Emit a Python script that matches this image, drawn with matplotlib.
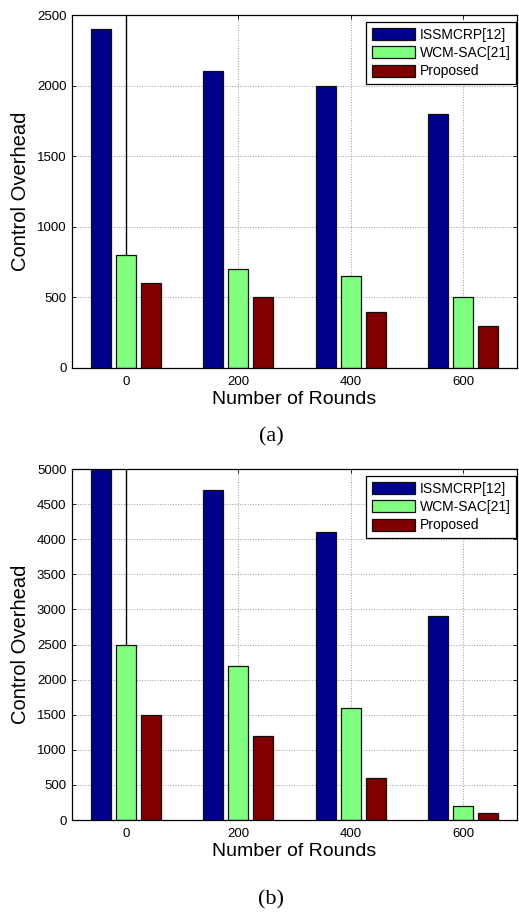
import matplotlib
matplotlib.use("Agg")
import matplotlib.pyplot as plt
import numpy as np

plt.rcParams["font.family"] = ["Liberation Sans", "DejaVu Sans"]

rounds = ["0", "200", "400", "600"]
series_names = ["ISSMCRP[12]", "WCM-SAC[21]", "Proposed"]
colors = ["#00008F", "#80FF80", "#800000"]

# panel (a)
issmcrp_a = [2400, 2100, 2000, 1800]
wcmsac_a = [800, 700, 650, 500]
proposed_a = [600, 500, 400, 300]
yticks_a = [0, 500, 1000, 1500, 2000, 2500]

# panel (b)
issmcrp_b = [5000, 4700, 4100, 2900]
wcmsac_b = [2500, 2200, 1600, 200]
proposed_b = [1500, 1200, 600, 100]
yticks_b = list(range(0, 5001, 500))

W, H = 519, 913
fig = plt.figure(figsize=(W / 100, H / 100), dpi=100)


def panel(top_px, bottom_px, series, yticks, caption, caption_y):
    left_px, right_px = 72, 517
    ax = fig.add_axes([left_px / W, 1 - bottom_px / H,
                       (right_px - left_px) / W, (bottom_px - top_px) / H])
    x = np.arange(len(rounds))
    offsets = [-0.222, 0.0, 0.222]
    for vals, off, col, name in zip(series, offsets, colors, series_names):
        ax.bar(x + off, vals, width=0.176, color=col, edgecolor="#111111",
               linewidth=0.9, label=name, zorder=3)
    ymax = yticks[-1]
    # solid marker line over the first group
    ax.vlines(x[0], series[1][0], ymax, color="black", linewidth=1.0, zorder=2)

    ax.set_xlim(-0.48, 3.48)
    ax.set_ylim(0, ymax)
    ax.set_xticks(x)
    ax.set_xticklabels(rounds)
    ax.set_yticks(yticks)
    ax.tick_params(direction="in", length=3, width=0.6, top=True, right=True,
                   labelsize=9.5, pad=4)
    ax.tick_params(axis="x", pad=6)
    ax.grid(True, linestyle=":", color="#999999", linewidth=0.7, zorder=0)
    ax.set_axisbelow(True)
    for s in ax.spines.values():
        s.set_linewidth(0.9)
        s.set_zorder(4)

    ax.set_xlabel("Number of Rounds", fontsize=14)
    ax.xaxis.set_label_coords(0.5, -0.066)
    ax.set_ylabel("Control Overhead", fontsize=14.5)
    ax.yaxis.set_label_coords(-0.095, 0.5)

    axw, axh = right_px - left_px, bottom_px - top_px
    leg = ax.legend(loc="upper right", bbox_to_anchor=(1 - 1 / axw, 1 - 7 / axh),
                    fontsize=10, frameon=True, fancybox=False, framealpha=1,
                    edgecolor="black", borderpad=0.4, labelspacing=0.32,
                    handlelength=3.1, handleheight=0.95, handletextpad=0.35,
                    borderaxespad=0)
    leg.get_frame().set_linewidth(0.9)

    fig.text(271 / W, 1 - caption_y / H, caption, ha="center", va="center",
             fontsize=16, family=["Liberation Serif", "DejaVu Serif"])
    return ax


panel(15, 368, [issmcrp_a, wcmsac_a, proposed_a], yticks_a, "(a)", 437)
panel(469, 820, [issmcrp_b, wcmsac_b, proposed_b], yticks_b, "(b)", 900)

fig.savefig("out.png", dpi=100)
